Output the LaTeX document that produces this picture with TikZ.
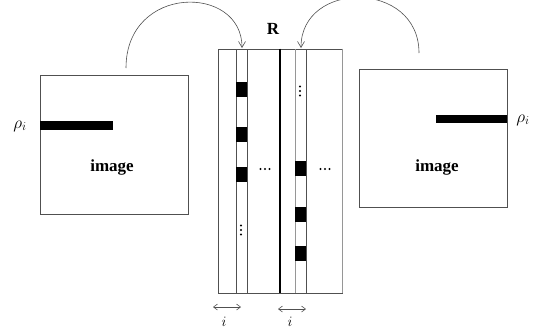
\documentclass[tikz,border=0pt]{standalone}
\usepackage{fontspec}
\setmainfont{Liberation Serif}
\usepackage{tikz}
\usetikzlibrary{arrows.meta, positioning, calc}
\definecolor{frameGray}{RGB}{80, 80, 80}
\definecolor{lineGray}{RGB}{150, 150, 150}

\begin{document}
\begin{tikzpicture}[
    x=1pt, y=-1pt,
    imgbox/.style={rectangle, draw=frameGray, line width=0.6pt, fill=white, minimum width=148pt, minimum height=139pt, inner sep=0pt},
    matbox/.style={rectangle, draw=frameGray, line width=0.6pt, minimum width=124pt, minimum height=244pt, inner sep=0pt},
    bar/.style={fill=black, draw=none},
    cell/.style={fill=black, draw=none},
    dotmark/.style={fill=black, draw=none},
    curvearrow/.style={-{Straight Barb[length=6pt, width=7pt]}, frameGray, line width=0.6pt},
    widtharrow/.style={{Straight Barb[length=4pt, width=6pt]}-{Straight Barb[length=4pt, width=6pt]}, frameGray, line width=0.6pt},
    lbl/.style={font=\fontsize{17}{20}\selectfont\bfseries, inner sep=0pt},
    mlbl/.style={font=\fontsize{17}{20}\selectfont, inner sep=0pt}
]
    \useasboundingbox (0,0) rectangle (540,335);

    % Nodes
    \node[imgbox] (leftimg) at (114,144.5) {};
    \node[imgbox, minimum height=138pt] (rightimg) at (433,138) {};
    \node[matbox] (rmat) at (280,171) {};

    \node[lbl] (leftlbl) at (112,167) {image};
    \node[lbl] (rightlbl) at (437,167) {image};
    \node[lbl] (rlbl) at (273,29) {R};
    \node[mlbl] (leftrho) at (20,126) {$\rho_i$};
    \node[mlbl] (rightrho) at (523,120) {$\rho_i$};

    % rows of the images
    \fill[bar] (40,121) rectangle (113,130);
    \fill[bar] (436,115) rectangle (507,123);

    % columns of R
    \draw[frameGray, line width=0.6pt] (236,49) -- (236,293);
    \draw[frameGray, line width=0.6pt] (247,49) -- (247,293);
    \draw[black, line width=2pt] (rmat.north) -- (rmat.south);
    \draw[lineGray, line width=1pt] (295,49) -- (295,293);
    \draw[frameGray, line width=0.6pt] (306,49) -- (306,293);
    \draw[lineGray, line width=1pt] (rmat.north east) -- (rmat.south east);

    \foreach \y in {82,127,167}
        \fill[cell] (236,\y) rectangle (247,\y+15);
    \foreach \y in {161,207,246}
        \fill[cell] (295,\y) rectangle (306,\y+15);

    % dots
    \foreach \d in {-4.5,0,4.5} {
        \fill[dotmark] (241,230+\d) circle (1.1);
        \fill[dotmark] (300,91+\d) circle (1.1);
        \fill[dotmark] (265+\d,169) circle (1.1);
        \fill[dotmark] (325+\d,169) circle (1.1);
    }

    % Connections
    \coordinate (lstart) at (126,68);
    \coordinate (lend) at (242,48);
    \coordinate (rstart) at (419,53);
    \coordinate (rend) at (301,48);
    \draw[curvearrow] (lstart) .. controls (126,-16) and (242,-16) .. (lend);
    \draw[curvearrow] (rstart) .. controls (419,-20) and (301,-20) .. (rend);

    % widths
    \coordinate (wa1) at (213,307);
    \coordinate (wa2) at (241,307);
    \coordinate (wb1) at (278,309);
    \coordinate (wb2) at (306,309);
    \draw[widtharrow] (wa1) -- (wa2);
    \draw[widtharrow] (wb1) -- (wb2);
    \node[mlbl, font=\fontsize{14}{16}\selectfont] (ia) at (224,322) {$i$};
    \node[mlbl, font=\fontsize{14}{16}\selectfont] (ib) at (290,322) {$i$};
\end{tikzpicture}
\end{document}
